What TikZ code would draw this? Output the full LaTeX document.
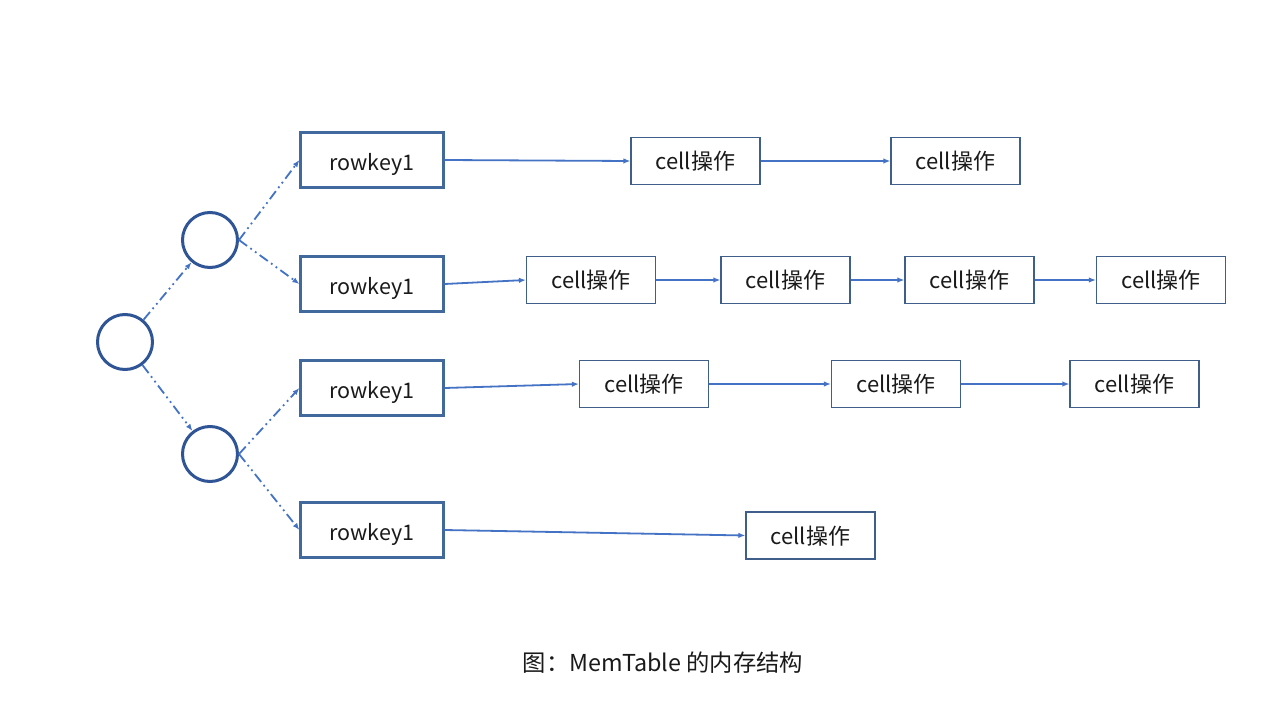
\documentclass[tikz,border=0pt]{standalone}
\usepackage{fontspec}
\setmainfont{Noto Sans CJK SC}
\usetikzlibrary{arrows.meta}
\definecolor{arrowc}{HTML}{4472C4}
\definecolor{circc}{HTML}{2F5597}
\definecolor{rkc}{HTML}{41699E}
\definecolor{cellc}{HTML}{3F5F8A}
\definecolor{txt}{HTML}{1A1A1A}
\tikzset{
  x=1pt, y=-1pt,
  tip/.style={-{Latex[length=7pt,width=5.5pt]}},
  circnode/.style={circle, draw=circc, line width=3pt, minimum size=55pt, inner sep=0pt},
  rkbox/.style={draw=rkc, line width=2.2pt, minimum width=143pt, minimum height=55pt, inner sep=0pt, text height=20pt, text depth=0pt, font=\fontsize{21.5}{24}\selectfont, text=txt},
  cellbox/.style={draw=cellc, line width=1.2pt, minimum width=129pt, minimum height=47pt, inner sep=0pt, text height=17pt, text depth=0pt, font=\fontsize{22}{24}\selectfont, text=txt},
  solidarr/.style={tip, draw=arrowc, line width=1.8pt},
  dasharr/.style={tip, draw=arrowc, line width=1.8pt, dash pattern=on 10pt off 4pt on 1.8pt off 4pt on 1.8pt off 4pt},
}
\begin{document}
\begin{tikzpicture}
\useasboundingbox[fill=white] (0,0) rectangle (1280,720);
% circles
\node[circnode] (root) at (125,342) {};
\node[circnode] (c1) at (210,240) {};
\node[circnode] (c2) at (210,454) {};
% rowkeys
\node[rkbox] (rk1) at (372,160) {rowkey1};
\node[rkbox] (rk2) at (372,284) {rowkey1};
\node[rkbox] (rk3) at (372,388) {rowkey1};
\node[rkbox] (rk4) at (372,530) {rowkey1};
% cells
\node[cellbox] (a1) at (695.5,161) {cell操作};
\node[cellbox] (a2) at (955.5,161) {cell操作};
\node[cellbox] (b1) at (591,280) {cell操作};
\node[cellbox] (b2) at (785.5,280) {cell操作};
\node[cellbox] (b3) at (969.5,280) {cell操作};
\node[cellbox] (b4) at (1161,280) {cell操作};
\node[cellbox] (d1) at (644,384) {cell操作};
\node[cellbox] (d2) at (896,384) {cell操作};
\node[cellbox] (d3) at (1134.5,384) {cell操作};
\node[cellbox] (e1) at (810.5,535.5) {cell操作};
% dashed arrows
\draw[dasharr] (root) -- (c1);
\draw[dasharr] (root) -- (c2);
\draw[dasharr] (c1.east) -- (rk1.west);
\draw[dasharr] (c1.east) -- (rk2.west);
\draw[dasharr] (c2.east) -- (rk3.west);
\draw[dasharr] (c2.east) -- (rk4.west);
% solid arrows
\draw[solidarr] (rk1.east) -- (a1.west);
\draw[solidarr] (a1.east) -- (a2.west);
\draw[solidarr] (rk2.east) -- (b1.west);
\draw[solidarr] (b1.east) -- (b2.west);
\draw[solidarr] (b2.east) -- (b3.west);
\draw[solidarr] (b3.east) -- (b4.west);
\draw[solidarr] (rk3.east) -- (d1.west);
\draw[solidarr] (d1.east) -- (d2.west);
\draw[solidarr] (d2.east) -- (d3.west);
\draw[solidarr] (rk4.east) -- (e1.west);
% caption
\node[text=txt, font=\fontsize{23.3}{26}\selectfont] (cap) at (663,663) {图：MemTable 的内存结构};
\end{tikzpicture}
\end{document}
